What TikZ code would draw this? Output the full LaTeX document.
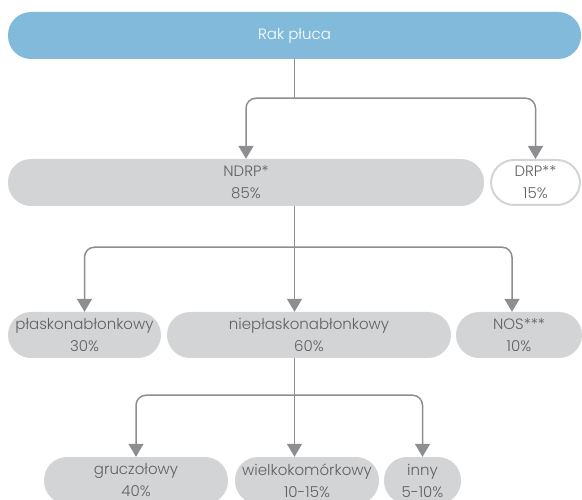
\documentclass[tikz,border=0pt]{standalone}
\usepackage{fontspec}
\setmainfont{Poppins Light}
\usetikzlibrary{arrows.meta,positioning}
\definecolor{rakblue}{HTML}{82BADB}
\definecolor{boxgray}{HTML}{D3D4D6}
\definecolor{linegray}{HTML}{8E8E90}
\definecolor{txtgray}{HTML}{5F6062}

\begin{document}
\begin{tikzpicture}[x=1pt,y=1pt,font=\fontsize{15}{22}\selectfont,
 typ/.style={fill=boxgray,text=txtgray,rounded corners=23pt,minimum height=47pt,inner sep=0pt,align=center},
 link/.style={linegray,line width=1.5pt,rounded corners=10pt},
 arr/.style={link,-{Triangle[width=15pt,length=13pt]}}]
\useasboundingbox (0,0) rectangle (582,-500);
\clip (0,0) rectangle (582,-500);
% top
\node[typ,fill=rakblue,text=white,minimum width=573pt] (rak) at (294.5,-35.5) {Rak płuca};
% level 1
\node[typ,minimum width=476pt] (ndrp) at (246,-182.5) {NDRP*\\85\%};
\node[typ,fill=white,draw=boxgray,line width=2pt,minimum width=89pt,minimum height=45pt] (drp) at (535.5,-182.5) {DRP**\\15\%};
% level 2
\node[typ,minimum width=153pt,minimum height=46pt] (plask) at (84.5,-335) {płaskonabłonkowy\\30\%};
\node[typ,minimum width=284pt,minimum height=46pt] (niep) at (309,-335) {niepłaskonabłonkowy\\60\%};
\node[typ,minimum width=126pt,minimum height=46pt] (nos) at (519,-335) {NOS***\\10\%};
% level 3
\node[typ,minimum width=184pt] (gruc) at (136,-480.5) {gruczołowy\\40\%};
\node[typ,minimum width=144pt] (wiel) at (307,-480.5) {wielkokomórkowy\\10-15\%};
\node[typ,minimum width=77pt] (inny) at (422.5,-480.5) {inny\\5-10\%};

\coordinate[below=39pt of rak.south] (j1);
\draw[link] (rak.south) -- (j1);
\draw[arr] (j1) -| (ndrp.north);
\draw[arr] (j1) -| (drp.north);

\coordinate (t2) at (ndrp.south -| rak.south);
\coordinate[below=41pt of t2] (j2);
\draw[link] (t2) -- (j2);
\draw[arr] (j2) -| (plask.north);
\draw[arr] (j2) -- (niep.north -| j2);
\draw[arr] (j2) -| ([xshift=-7pt]nos.north);

\coordinate (t3) at (niep.south -| rak.south);
\coordinate[below=37pt of t3] (j3);
\draw[link] (t3) -- (j3);
\draw[arr] (j3) -| (gruc.north);
\draw[arr] (j3) -- (wiel.north -| j3);
\draw[arr] (j3) -| (inny.north);
\end{tikzpicture}
\end{document}
